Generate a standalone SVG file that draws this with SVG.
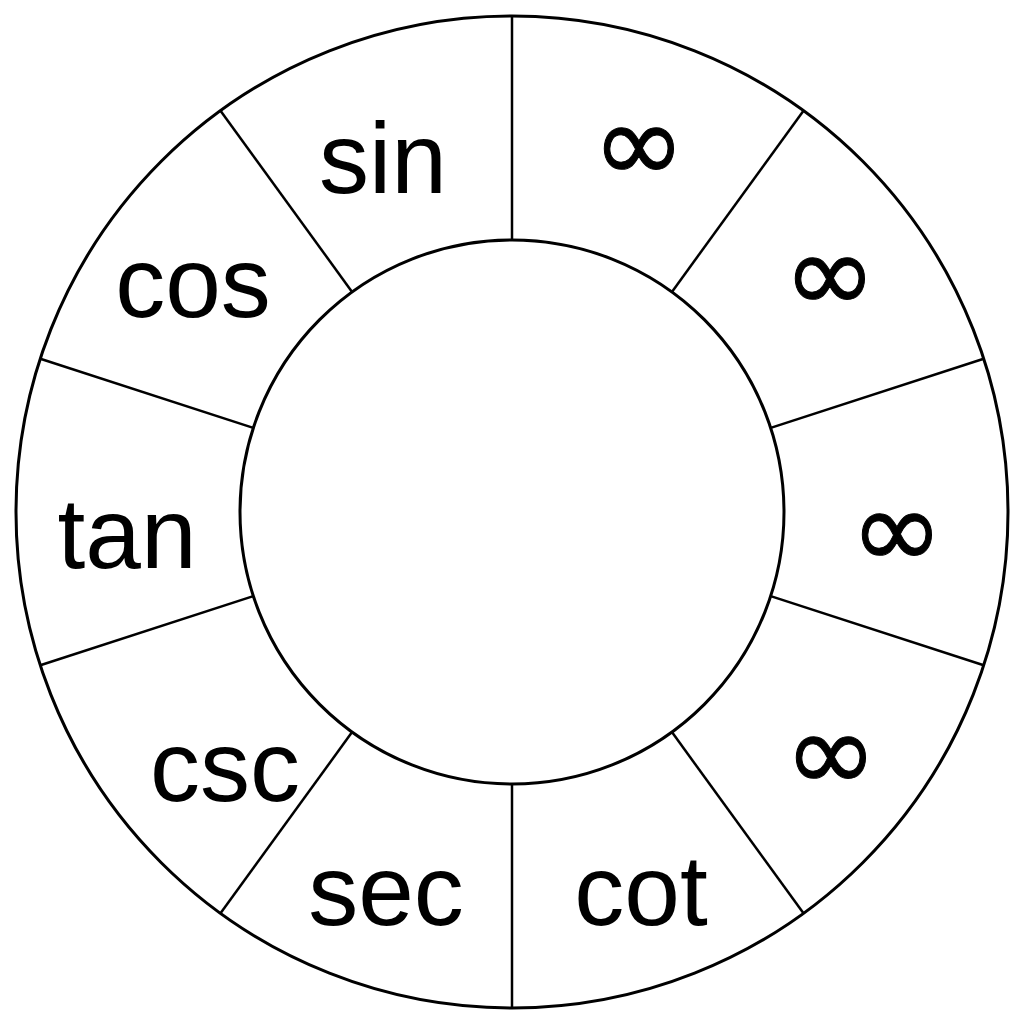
<svg xmlns="http://www.w3.org/2000/svg" width="1024" height="1024" viewBox="0 0 1024 1024">
<style>
.ring{fill:none;stroke:#000;stroke-width:3}
.div{stroke:#000;stroke-width:2.5}
.lbl{font-family:"Liberation Sans",Arial,sans-serif;font-size:100px;fill:#000;text-anchor:middle}
.inf{font-family:"DejaVu Sans",sans-serif;font-size:112px;fill:#000;stroke:#000;stroke-width:1;text-anchor:middle}
</style>
<rect width="1024" height="1024" fill="#fff"/>
<g id="rings">
<circle class="ring" cx="512" cy="512" r="496"/>
<circle class="ring" cx="512" cy="512" r="272"/>
</g>
<g id="connectors">
<line class="div" x1="512" y1="16" x2="512" y2="240"/>
<line class="div" x1="220.5" y1="110.7" x2="352.1" y2="291.9"/>
<line class="div" x1="40.3" y1="358.7" x2="253.3" y2="427.9"/>
<line class="div" x1="40.3" y1="665.3" x2="253.3" y2="596.1"/>
<line class="div" x1="220.5" y1="913.3" x2="352.1" y2="732.1"/>
<line class="div" x1="512" y1="1008" x2="512" y2="784"/>
<line class="div" x1="803.5" y1="913.3" x2="671.9" y2="732.1"/>
<line class="div" x1="983.7" y1="665.3" x2="770.7" y2="596.1"/>
<line class="div" x1="983.7" y1="358.7" x2="770.7" y2="427.9"/>
<line class="div" x1="803.5" y1="110.7" x2="671.9" y2="291.9"/>
</g>
<g id="seg-sin"><text class="lbl" x="383" y="193">sin</text></g>
<g id="seg-cos"><text class="lbl" x="193" y="317">cos</text></g>
<g id="seg-tan"><text class="lbl" x="127" y="568">tan</text></g>
<g id="seg-csc"><text class="lbl" x="225" y="801">csc</text></g>
<g id="seg-sec"><text class="lbl" x="386" y="925">sec</text></g>
<g id="seg-cot"><text class="lbl" x="641" y="925">cot</text></g>
<g id="seg-inf1"><text class="inf" x="639" y="182">∞</text></g>
<g id="seg-inf2"><text class="inf" x="830" y="312">∞</text></g>
<g id="seg-inf3"><text class="inf" x="897" y="568">∞</text></g>
<g id="seg-inf4"><text class="inf" x="831" y="791">∞</text></g>
</svg>
